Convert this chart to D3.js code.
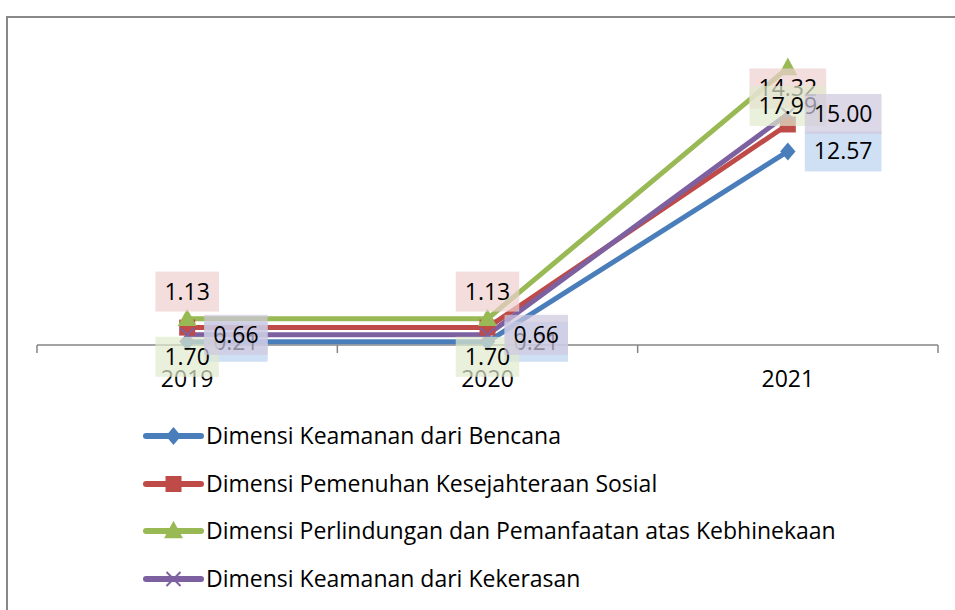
<!DOCTYPE html>
<html><head><meta charset="utf-8">
<script src="https://cdn.jsdelivr.net/npm/d3@7"></script>
<style>html,body{margin:0;padding:0;background:#fff;overflow:hidden}</style>
</head><body><svg id="c" width="955" height="610"></svg>
<script>
const years = ["2019", "2020", "2021"];
const seriesNames = [
  "Dimensi Keamanan dari Bencana",
  "Dimensi Pemenuhan Kesejahteraan Sosial",
  "Dimensi Perlindungan dan Pemanfaatan atas Kebhinekaan",
  "Dimensi Keamanan dari Kekerasan"
];
const bencana = [0.21, 0.21, 12.57];
const kesejahteraan = [1.13, 1.13, 14.32];
const kebhinekaan = [1.70, 1.70, 17.99];
const kekerasan = [0.66, 0.66, 15.00];
const labelKesejahteraan = ["1.13", "1.13", "14.32"];
const labelKebhinekaan = ["1.70", "1.70", "17.99"];

const colors = ["#4A7EBB", "#BE4B48", "#98B954", "#7D60A0"];
const boxFills = ["rgb(186,209,239)", "rgb(238,208,206)", "rgb(224,234,205)", "rgb(206,199,222)"];
const markers = ["diamond", "square", "triangle", "x"];
const labelPos = ["right", "above", "below", "right"];

const series = [
  {name: seriesNames[0], values: bencana},
  {name: seriesNames[1], values: kesejahteraan},
  {name: seriesNames[2], values: kebhinekaan},
  {name: seriesNames[3], values: kekerasan}
];

const FONT = "'Open Sans', Lato, sans-serif";
const FS = 23;
const svg = d3.select("#c");

// chart frame
svg.append("rect").attr("x", 7).attr("y", 17).attr("width", 1000).attr("height", 700)
  .attr("fill", "#fff").attr("stroke", "#888").attr("stroke-width", 2);

const x = d3.scaleBand().domain(years).range([37, 938]).paddingInner(0).paddingOuter(0);
const cx = d => x(d) + x.bandwidth() / 2;
const y = d3.scaleLinear().domain([0, 20]).range([345, 37]);

// category axis
const axisG = svg.append("g").attr("transform", `translate(0,${y(0)})`);
axisG.append("line").attr("x1", 37).attr("x2", 938).attr("stroke", "#868686").attr("stroke-width", 1.5);
const bounds = years.map(d => x(d)).concat([x(years[years.length - 1]) + x.bandwidth()]);
axisG.selectAll("line.tick").data(bounds).enter().append("line").attr("class", "tick")
  .attr("x1", d => d).attr("x2", d => d).attr("y1", 0).attr("y2", 8)
  .attr("stroke", "#868686").attr("stroke-width", 1.5);
axisG.selectAll("text").data(years).enter().append("text")
  .attr("x", d => cx(d)).attr("y", 42).attr("text-anchor", "middle")
  .attr("font-family", FONT).attr("font-size", FS).attr("fill", "#000").text(d => d);

function markerPath(type, s) {
  if (type === "diamond") return `M0,${-s}L${s * 0.85},0L0,${s}L${-s * 0.85},0Z`;
  if (type === "square") return `M${-s},${-s}H${s}V${s}H${-s}Z`;
  if (type === "triangle") return `M0,${-s * 1.15}L${s * 1.05},${s * 0.8}L${-s * 1.05},${s * 0.8}Z`;
  return `M${-s},${-s}L${s},${s}M${s},${-s}L${-s},${s}`;
}
const markerSize = {diamond: 9, square: 8, triangle: 9, x: 7};

function drawMarker(g, type, color, px, py) {
  const p = g.append("path").attr("d", markerPath(type, markerSize[type]))
    .attr("transform", `translate(${px},${py})`);
  if (type === "x") p.attr("fill", "none").attr("stroke", color).attr("stroke-width", 2);
  else p.attr("fill", color).attr("stroke", "none");
}

const line = d3.line().x((d, i) => cx(years[i])).y(d => y(d));
const plot = svg.append("g");
series.forEach((s, si) => {
  plot.append("path").datum(s.values).attr("d", line).attr("fill", "none")
    .attr("stroke", colors[si]).attr("stroke-width", 5).attr("stroke-linejoin", "round");
});
series.forEach((s, si) => {
  s.values.forEach((v, i) => drawMarker(plot, markers[si], colors[si], cx(years[i]), y(v)));
});

// data labels
const labelTexts = [
  bencana.map(v => v.toFixed(2)),
  labelKesejahteraan,
  labelKebhinekaan,
  kekerasan.map(v => v.toFixed(2))
];
const lab = svg.append("g");
series.forEach((s, si) => {
  s.values.forEach((v, i) => {
    const px = cx(years[i]), py = y(v);
    const g = lab.append("g");
    const t = g.append("text").attr("font-family", FONT).attr("font-size", FS)
      .attr("fill", "#000").attr("text-anchor", "middle").text(labelTexts[si][i]);
    const w = t.node().getBBox().width + 18, h = 40;
    let bx, by;
    if (labelPos[si] === "right") { bx = px + 17; by = py - h / 2; }
    else if (labelPos[si] === "above") { bx = px - w / 2; by = py - 36 - h / 2; }
    else { bx = px - w / 2; by = py + 38 - h / 2; }
    g.insert("rect", "text").attr("x", bx).attr("y", by).attr("width", w).attr("height", h)
      .attr("fill", boxFills[si]).attr("opacity", 0.7);
    t.attr("x", bx + w / 2).attr("y", by + h / 2 + 8);
  });
});

// legend
const leg = svg.append("g");
const legY = [436, 484, 531, 579];
series.forEach((s, si) => {
  const g = leg.append("g").attr("transform", `translate(0,${legY[si]})`);
  g.append("line").attr("x1", 146).attr("x2", 201).attr("y1", 0).attr("y2", 0)
    .attr("stroke", colors[si]).attr("stroke-width", 6).attr("stroke-linecap", "round");
  drawMarker(g, markers[si], colors[si], 173.5, 0);
  g.append("text").attr("x", 206).attr("y", 8).attr("font-family", FONT).attr("font-size", FS)
    .attr("fill", "#000").text(s.name);
});
</script></body></html>
